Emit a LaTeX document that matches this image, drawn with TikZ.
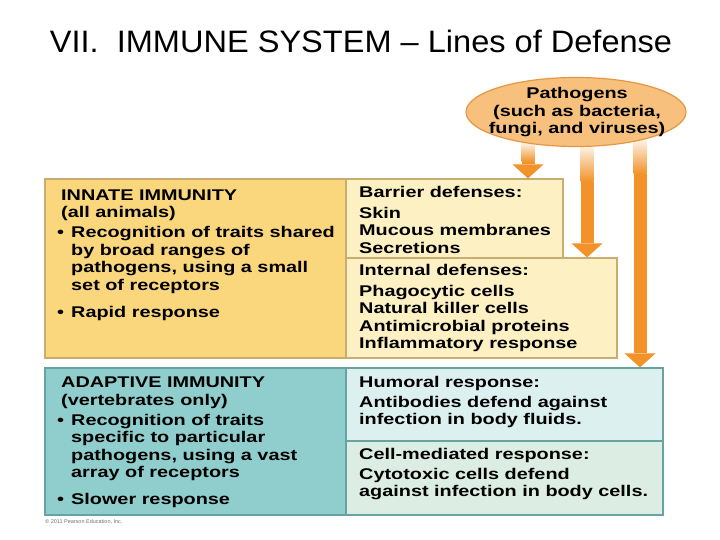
\documentclass[tikz,border=0pt]{standalone}
\usepackage{fontspec}
\setmainfont{Liberation Sans}
\newfontfamily\titlefont[FakeStretch=1.05]{Liberation Sans}
\newfontfamily\panelfont[FakeStretch=1.28]{Liberation Sans}
\usetikzlibrary{arrows.meta, positioning, shapes.geometric}

\definecolor{arroworange}{RGB}{242,146,40}
\definecolor{pathofill}{RGB}{247,193,125}
\definecolor{pathoborder}{RGB}{228,150,70}
\definecolor{innatefill}{RGB}{250,214,125}
\definecolor{innerfill}{RGB}{253,240,194}
\definecolor{yellowborder}{RGB}{200,172,112}
\definecolor{adaptfill}{RGB}{144,206,206}
\definecolor{humoralfill}{RGB}{221,240,240}
\definecolor{cellfill}{RGB}{220,238,228}
\definecolor{tealborder}{RGB}{104,162,162}

% bullet and hanging indent for the list lines
\newcommand{\bul}{\makebox[14pt][l]{\textbullet}}
\newcommand{\hang}{\hspace*{14pt}}
\newcommand{\hd}{\hspace*{4pt}}

\begin{document}
\begin{tikzpicture}[x=1pt, y=-1pt,
    panel/.style={draw, rectangle, inner sep=0pt, line width=1.2pt},
    paneltext/.style={anchor=north west, align=left, inner sep=0pt, font=\panelfont\bfseries\fontsize{15.5}{17.5}\selectfont},
    bigarrow/.style={draw=arroworange, line width=13pt, -{Triangle[width=31pt, length=14pt, line width=0pt]}}]
    \useasboundingbox (0,0) rectangle (720,540);

    % Title
    \node (title) [anchor=base, inner sep=0pt, font=\titlefont\fontsize{31}{36}\selectfont] at (361,53) {VII.\ \ IMMUNE SYSTEM \textendash{} Lines of Defense};

    % Innate side
    \node (innate) [panel, draw=yellowborder, fill=innatefill, minimum width=301pt, minimum height=179pt] at (195.5,268.5) {};
    \node (barrier) [panel, draw=yellowborder, fill=innerfill, minimum width=217pt, minimum height=79pt] at (454.5,218.5) {};
    \node (internal) [panel, draw=yellowborder, fill=innerfill, minimum width=271pt, minimum height=100pt] at (481.5,308) {};

    \node (innatetext) [paneltext] at (57,189.5) {\hd INNATE IMMUNITY\\ \hd(all animals)\\[2.5pt]
        \bul Recognition of traits shared\\ \hang by broad ranges of\\ \hang pathogens, using a small\\ \hang set of receptors\\[9.5pt]
        \bul Rapid response};
    \node (barriertext) [paneltext] at (359,186) {Barrier defenses:\\[3.5pt] Skin\\ Mucous membranes\\ Secretions};
    \node (internaltext) [paneltext] at (359,264) {Internal defenses:\\[3.5pt] Phagocytic cells\\ Natural killer cells\\ Antimicrobial proteins\\ Inflammatory response};

    % Adaptive side
    \node (adaptive) [panel, draw=tealborder, fill=adaptfill, minimum width=301pt, minimum height=147pt] at (195.5,441.5) {};
    \node (humoral) [panel, draw=tealborder, fill=humoralfill, minimum width=317pt, minimum height=73pt] at (504.5,404.5) {};
    \node (cellmed) [panel, draw=tealborder, fill=cellfill, minimum width=317pt, minimum height=74pt] at (504.5,478) {};

    \node (adaptivetext) [paneltext] at (57,377) {\hd ADAPTIVE IMMUNITY\\ \hd(vertebrates only)\\[2.5pt]
        \bul Recognition of traits\\ \hang specific to particular\\ \hang pathogens, using a vast\\ \hang array of receptors\\[9.5pt]
        \bul Slower response};
    \node (humoraltext) [paneltext] at (359,376) {Humoral response:\\[2.5pt] Antibodies defend against\\ infection in body fluids.};
    \node (celltext) [paneltext] at (359,448) {Cell-mediated response:\\[2.5pt] Cytotoxic cells defend\\ against infection in body cells.};

    % Arrows from the pathogens
    \coordinate (a1top) at (528,143);
    \coordinate (a1mid) at (528,162);
    \coordinate (a2top) at (587,146);
    \coordinate (a2mid) at (587,182);
    \coordinate (a3top) at (640,140);
    \coordinate (a3mid) at (640,174);
    \foreach \a in {a1,a2,a3}
        \shade [top color=arroworange!12, bottom color=arroworange] ([xshift=-6.5pt]\a top) rectangle ([xshift=6.5pt]\a mid);
    \draw [bigarrow] (a1mid) -- (barrier.north -| a1mid);
    \draw [bigarrow] (a2mid) -- (internal.north -| a2mid);
    \draw [bigarrow] (a3mid) -- (humoral.north -| a3mid);

    % Pathogens
    \node (patho) [ellipse, draw=pathoborder, fill=pathofill, line width=1.2pt, minimum width=220pt, minimum height=69pt] at (576,112) {};
    \node (pathotext) [anchor=north, align=center, inner sep=0pt, font=\panelfont\bfseries\fontsize{15.5}{17.5}\selectfont] at (577,87.5) {Pathogens\\ (such as bacteria,\\ fungi, and viruses)};

    % Credit line
    \node (credit) [anchor=west, inner sep=0pt, text=black!55, font=\fontsize{5.5}{6}\selectfont] at (45,522) {\textcopyright{} 2011 Pearson Education, Inc.};
\end{tikzpicture}
\end{document}
